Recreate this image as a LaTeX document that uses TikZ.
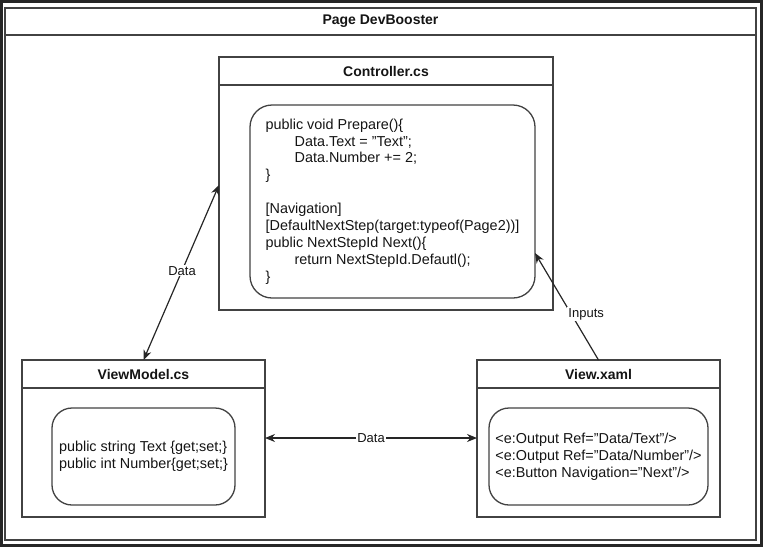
\documentclass[tikz,border=0pt]{standalone}
\usepackage{fontspec}
\setmainfont{Liberation Sans}
\usetikzlibrary{arrows.meta,positioning}
\definecolor{boxline}{RGB}{66,66,66}
\definecolor{darktext}{RGB}{20,20,20}
\newcommand{\dq}{\symbol{34}}
\tikzset{
  lanehead/.style={draw=boxline,line width=1.3pt,outer sep=0pt,inner sep=0pt,
    font=\fontsize{14}{16.8}\selectfont\bfseries,text=darktext},
  lanebody/.style={draw=boxline,line width=1.3pt,outer sep=0pt,inner sep=0pt,anchor=north},
  codebox/.style={draw=boxline,line width=1.3pt,outer sep=0pt,inner sep=0pt,
    rounded corners=22pt,align=left,font=\fontsize{14.4}{16.9}\selectfont,text=darktext},
  flow/.style={{Stealth[length=10pt,width=8pt]}-{Stealth[length=10pt,width=8pt]},
    line width=1.2pt,color=black!85},
  flowlbl/.style={fill=white,inner sep=1pt,font=\fontsize{13}{15}\selectfont,text=darktext}
}

\begin{document}
\begin{tikzpicture}[x=1pt,y=-1pt]
\useasboundingbox (0,0) rectangle (763,547);
\draw[line width=3pt,color=black!85] (1.5,1.5) rectangle (761.5,545.5);

% page container
\node[lanehead,minimum width=751,minimum height=27] (pagehead) at (380.5,21.5) {Page DevBooster};
\node[lanebody,minimum width=751,minimum height=505] (pagebody) at (pagehead.south) {};

% controller
\node[lanehead,minimum width=334,minimum height=28] (ctrlhead) at (386,71) {Controller.cs};
\node[lanebody,minimum width=334,minimum height=225] (ctrlbody) at (ctrlhead.south) {};
\node[codebox,minimum width=285,minimum height=193] (ctrlcode) at (392.5,201.5)
  {public void Prepare()\{\\
   \hspace*{29pt}Data.Text = \dq Text\dq;\\
   \hspace*{29pt}Data.Number += 2;\\
   \}\\[16.9pt]
   {[}Navigation{]}\\
   {[}DefaultNextStep(target:typeof(Page2)){]}\\
   public NextStepId Next()\{\\
   \hspace*{29pt}return NextStepId.Defautl();\\
   \}};

% view model
\node[lanehead,minimum width=243,minimum height=28] (vmhead) at (143.5,374) {ViewModel.cs};
\node[lanebody,minimum width=243,minimum height=129] (vmbody) at (vmhead.south) {};
\node[codebox,rounded corners=20pt,minimum width=183,minimum height=97] (vmcode) at (143.5,456.5)
  {public string Text \{get;set;\}\\
   public int Number\{get;set;\}};

% view
\node[lanehead,minimum width=243,minimum height=28] (viewhead) at (598.5,374) {View.xaml};
\node[lanebody,minimum width=243,minimum height=129] (viewbody) at (viewhead.south) {};
\node[codebox,rounded corners=20pt,minimum width=219,minimum height=97] (viewcode) at (598.5,456.5)
  {<e:Output Ref=\dq Data/Text\dq/>\\
   <e:Output Ref=\dq Data/Number\dq/>\\
   <e:Button Navigation=\dq Next\dq/>};

% connectors
\draw[flow] (vmhead.north) -- node[flowlbl,pos=0.51]{Data} ([yshift=12.5pt]ctrlbody.west);
\draw[flow] ([yshift=14.5pt]vmbody.east) -- node[flowlbl]{Data} ([yshift=14.5pt]viewbody.west);
\draw[-{Stealth[length=10pt,width=8pt]},line width=1.2pt,color=black!85]
  (viewhead.north) -- node[flowlbl,pos=0.43,xshift=15pt]{Inputs} ([yshift=-51.5pt]ctrlcode.east);
\end{tikzpicture}
\end{document}
